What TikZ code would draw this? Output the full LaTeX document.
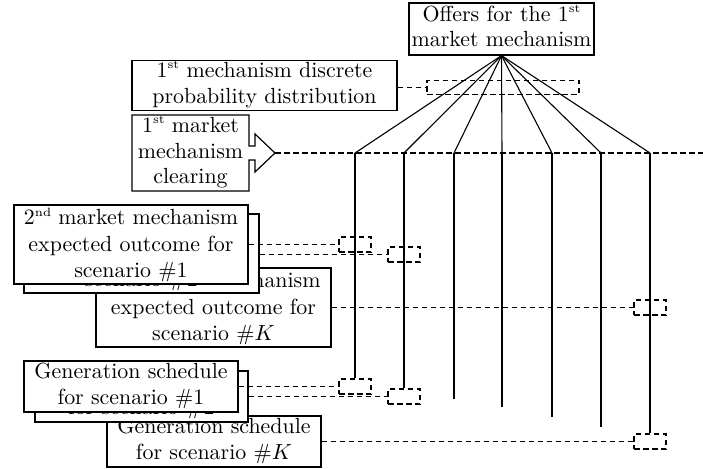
\documentclass[tikz,border=0pt]{standalone}
\usepackage{tikz}
\usepackage{graphicx}
% text is set at 10pt and enlarged, so the glyphs keep the 10pt design
\newcommand{\lbl}[2][11.5]{\scalebox{2.19}{\fontsize{10}{#1}\selectfont\begin{tabular}{@{}c@{}}#2\end{tabular}}}
% three-line labels with a wider line pitch, set slightly low in their boxes
\newcommand{\lbltall}[1]{\raisebox{-1.5pt}[\height][\depth]{\lbl[12]{#1}}}
\newcommand{\ordsup}[1]{\raisebox{0.95ex}{\fontsize{5.5}{6}\selectfont #1}}
\begin{document}
\begin{tikzpicture}[x=1pt,y=-1pt,
  box/.style={draw, fill=white, line width=1.2pt, inner sep=0pt, align=center},
  dbox/.style={draw, line width=1.2pt, dash pattern=on 5.5pt off 3.5pt, minimum width=32pt, minimum height=15pt, inner sep=0pt},
  dline/.style={line width=1.1pt, dash pattern=on 5.5pt off 3.5pt},
  wire/.style={line width=1.1pt}]
\useasboundingbox (0,0) rectangle (703,468);

% first stage: offers, distribution and clearing
\node[box, minimum width=185pt, minimum height=52pt] (offers) at (501.5,29)
  {\lbl{Offers for the 1\ordsup{st}\\market mechanism}};
\node[box, minimum width=265pt, minimum height=49pt] (dist) at (264.5,85.5)
  {\lbl{1\ordsup{st} mechanism discrete\\probability distribution}};
\node[dbox, minimum width=152pt, minimum height=14pt] (distbox) at (503,87.5) {};
\draw[dline] (distbox.west -| dist.east) -- (distbox.west);

\draw[line width=1.2pt, fill=white] (132,115) -- (249,115) -- (249,146) -- (255,146)
  -- (255,134) -- (275,153) -- (255,172) -- (255,160) -- (249,160) -- (249,191)
  -- (132,191) -- cycle;
\node[inner sep=0pt] (clearing) at (190.5,153)
  {\lbl{1\ordsup{st} market\\mechanism\\clearing}};
\coordinate (tip) at (275,153);
\coordinate (rim) at (703,153);
\draw[dline] (tip) -- (rim);

% scenario branches
\foreach \i/\x in {1/355,2/404,3/454,4/502,5/552,6/601,7/650}
  \coordinate (f\i) at (\x,153);
\foreach \i in {1,...,7}
  \draw[wire] (offers.south) -- (f\i);

% second mechanism outcomes, stacked
\node[box, minimum width=235pt, minimum height=73pt] (outK) at (213.5,307.5)
  {\lbltall{2\ordsup{nd} market mechanism\\expected outcome for\\scenario $\#K$}};
\node[box, minimum width=235pt, minimum height=73pt] (out2) at (141.5,253.5)
  {\lbltall{2\ordsup{nd} market mechanism\\expected outcome for\\scenario $\#2$}};
\node[box, minimum width=234pt, minimum height=73pt] (out1) at (131,244.5)
  {\lbltall{2\ordsup{nd} market mechanism\\expected outcome for\\scenario $\#1$}};

% generation schedules, stacked
\node[box, minimum width=214pt, minimum height=51pt] (genK) at (214,441.5)
  {\lbl{Generation schedule\\for scenario $\#K$}};
\node[box, minimum width=213pt, minimum height=51pt] (gen2) at (141.5,396.5)
  {\lbl{Generation schedule\\for scenario $\#2$}};
\node[box, minimum width=214pt, minimum height=51pt] (gen1) at (131,386.5)
  {\lbl{Generation schedule\\for scenario $\#1$}};

% per-scenario markers
\node[dbox] (u1) at (355,244.5) {};
\node[dbox] (u2) at (404,254.5) {};
\node[dbox] (uK) at (650,307.5) {};
\node[dbox] (l1) at (355,386.5) {};
\node[dbox] (l2) at (404,396.5) {};
\node[dbox] (lK) at (650,441.5) {};

\coordinate (e3) at (454,399);
\coordinate (e4) at (502,407);
\coordinate (e5) at (552,417);
\coordinate (e6) at (601,427);
\draw[wire] (f1) -- (l1.north);
\draw[wire] (f2) -- (l2.north);
\draw[wire] (f3) -- (e3);
\draw[wire] (f4) -- (e4);
\draw[wire] (f5) -- (e5);
\draw[wire] (f6) -- (e6);
\draw[wire] (f7) -- (lK.north);

\draw[dline] (u1.west -| out1.east) -- (u1.west);
\draw[dline] (u2.west -| out2.east) -- (u2.west);
\draw[dline] (uK.west -| outK.east) -- (uK.west);
\draw[dline] (l1.west -| gen1.east) -- (l1.west);
\draw[dline] (l2.west -| gen2.east) -- (l2.west);
\draw[dline] (lK.west -| genK.east) -- (lK.west);
\end{tikzpicture}
\end{document}
